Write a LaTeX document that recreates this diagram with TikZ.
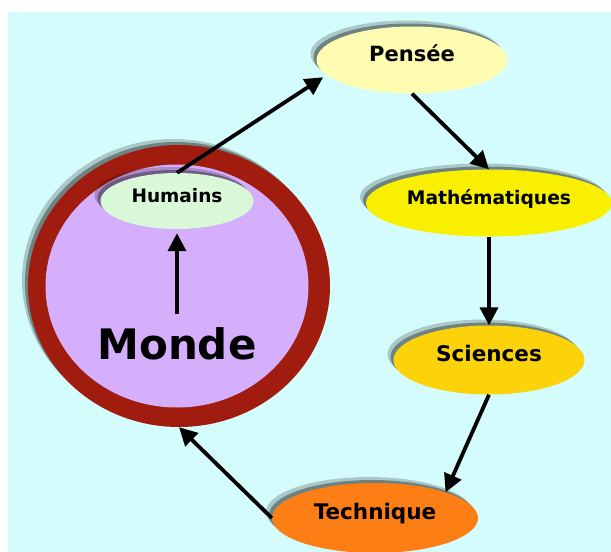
\documentclass[tikz,border=0pt]{standalone}
\usepackage{fontspec}
\setmainfont{DejaVu Sans}
\usepackage{xcolor}
\usepackage{tikz}
\usetikzlibrary{shapes.geometric,shadows,arrows.meta}
\definecolor{fond}{RGB}{212,252,252}
\definecolor{rougeanneau}{RGB}{160,28,14}
\definecolor{lavande}{RGB}{213,174,252}
\definecolor{vertpale}{RGB}{216,248,216}
\definecolor{jaunepale}{RGB}{254,252,176}
\definecolor{jaunevif}{RGB}{248,240,0}
\definecolor{orfonce}{RGB}{252,210,10}
\definecolor{orangevif}{RGB}{252,126,20}

\begin{document}
\begin{tikzpicture}[x=1pt, y=-1pt,
    bulle/.style={ellipse, inner sep=0pt, text centered, text height=0.75em, text depth=0.55em,
        drop shadow={shadow xshift=-6pt, shadow yshift=6pt, fill=black, opacity=0.2},
        drop shadow={shadow xshift=-3pt, shadow yshift=3pt, fill=black, opacity=0.35}},
    fleche/.style={line width=3.8pt, -{Triangle[length=18pt, width=18pt]}}]

    % fond
    \useasboundingbox (0,0) rectangle (611,552);
    \fill [white] (0,0) rectangle (611,552);
    \fill [fond] (8,12) rectangle (611,552);

    % le monde
    \node [bulle, fill=rougeanneau, minimum width=302pt, minimum height=282pt] (anneau) at (179,286) {};
    \node [ellipse, inner sep=0pt, fill=lavande, minimum width=263pt, minimum height=243pt] (monde) at (177,286) {};
    \node [bulle, fill=vertpale, minimum width=153pt, minimum height=56pt,
        font=\fontsize{18.5}{20}\selectfont\bfseries] (humains) at (177,201) {Humains};
    \node [font=\fontsize{42}{44}\selectfont\bfseries] (mot) at (177,344) {Monde};

    % les étapes
    \node [bulle, fill=jaunepale, minimum width=191pt, minimum height=67pt,
        font=\fontsize{21}{23}\selectfont\bfseries] (pensee) at (412,60) {Pensée};
    \node [bulle, fill=jaunevif, minimum width=246pt, minimum height=67pt,
        font=\fontsize{18.7}{20}\selectfont\bfseries] (maths) at (489,203) {Mathématiques};
    \node [bulle, fill=orfonce, minimum width=191pt, minimum height=69pt,
        font=\fontsize{21.5}{23}\selectfont\bfseries] (sciences) at (489,360) {Sciences};
    \node [bulle, fill=orangevif, minimum width=206pt, minimum height=70pt,
        font=\fontsize{21.5}{23}\selectfont\bfseries] (technique) at (375,518) {Technique};

    % le cycle
    \draw [fleche, shorten <=10pt, shorten >=4pt] (mot.north) -- (humains.south);
    \draw [fleche, shorten >=4pt] (humains.north) -- (pensee.190);
    \draw [fleche] (pensee.south) -- (maths.north);
    \draw [fleche] (maths.south) -- (sciences.north);
    \draw [fleche] (sciences.south) -- (technique.20);
    \draw [fleche] (technique.west) -- (anneau.south);
\end{tikzpicture}
\end{document}
